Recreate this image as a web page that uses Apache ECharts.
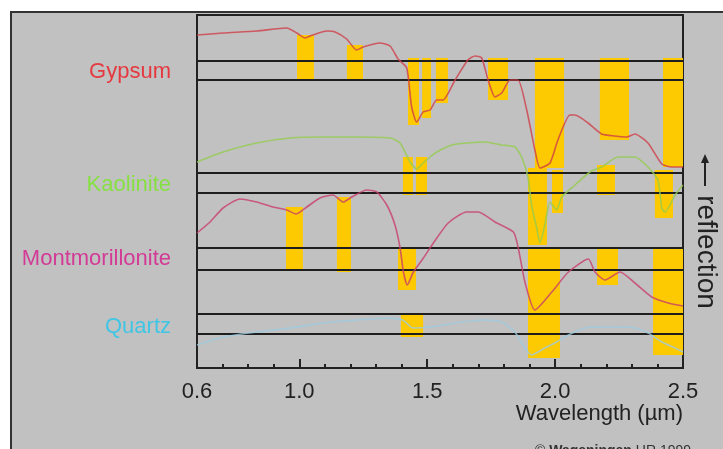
<!DOCTYPE html>
<html>
<head>
<meta charset="utf-8">
<script src="https://cdn.jsdelivr.net/npm/echarts@6/dist/echarts.min.js"></script>
<style>
  html, body { margin: 0; padding: 0; background: #fff; }
  #spectra { width: 723px; height: 449px; }
</style>
</head>
<body>
<div id="spectra"></div>
<script>
// wavelength axis (µm)
const labelTicks = [0.6, 1.0, 1.5, 2.0, 2.5];
const minorTicks = [0.7, 0.8, 0.9, 1.1, 1.2, 1.3, 1.4, 1.6, 1.7, 1.8, 1.9, 2.1, 2.2, 2.3, 2.4];
const majorTicks = [1.0, 1.5, 2.0, 2.5];

// minerals, their colours and where the name sits on the offset reflection scale
const minerals = ['Gypsum', 'Kaolinite', 'Montmorillonite', 'Quartz'];
const nameColors = ['#e5393f', '#86e043', '#d23a95', '#3fc6e4'];
const lineColors = ['#cf3f48', '#93cc4e', '#c93f6c', '#9ccbe0'];
const nameLevels = [296, 183, 109, 41];

// pairs of black reference lines (offset reflection units)
const baselines = [307, 288, 195, 175, 120, 98, 54, 34];

// spectra: [wavelength, reflection (offset)]
const gypsum = [
  [0.600, 333], [0.702, 335], [0.833, 337], [0.951, 340], [0.990, 335], [1.022, 330],
  [1.053, 333], [1.107, 337], [1.140, 336], [1.185, 329], [1.224, 318], [1.249, 321],
  [1.315, 325], [1.355, 322], [1.386, 309], [1.420, 300], [1.439, 261], [1.459, 246],
  [1.484, 256], [1.511, 258], [1.537, 268], [1.562, 268], [1.609, 288], [1.659, 308],
  [1.687, 312], [1.713, 310], [1.738, 288], [1.765, 271], [1.791, 275], [1.824, 288],
  [1.855, 288], [1.889, 258], [1.921, 218], [1.941, 200], [1.980, 205], [2.011, 228],
  [2.058, 253], [2.078, 253], [2.129, 245], [2.182, 234], [2.234, 232], [2.280, 231],
  [2.312, 234], [2.363, 225], [2.417, 204], [2.456, 201], [2.500, 201]
];
const kaolinite = [
  [0.600, 206], [0.702, 216], [0.833, 225], [0.964, 230], [1.093, 231], [1.224, 231],
  [1.355, 230], [1.394, 225], [1.433, 206], [1.459, 199], [1.484, 205], [1.511, 211],
  [1.537, 216], [1.596, 223], [1.659, 225], [1.726, 226], [1.791, 223], [1.843, 221],
  [1.869, 211], [1.894, 191], [1.908, 163], [1.928, 140], [1.941, 125], [1.960, 143],
  [1.980, 166], [2.006, 158], [2.026, 171], [2.078, 183], [2.136, 196], [2.182, 201],
  [2.246, 211], [2.312, 211], [2.363, 201], [2.402, 188], [2.417, 160], [2.430, 156],
  [2.469, 173], [2.500, 183]
];
const montmorillonite = [
  [0.600, 135], [0.651, 146], [0.702, 160], [0.768, 169], [0.833, 166], [0.897, 161],
  [0.951, 158], [0.987, 154], [1.029, 161], [1.081, 170], [1.132, 173], [1.172, 166],
  [1.205, 171], [1.263, 178], [1.303, 176], [1.342, 163], [1.374, 143], [1.394, 120],
  [1.407, 96], [1.422, 83], [1.446, 96], [1.485, 110], [1.524, 125], [1.582, 145],
  [1.654, 156], [1.700, 156], [1.765, 146], [1.837, 136], [1.856, 120], [1.882, 86],
  [1.921, 58], [1.987, 76], [2.052, 96], [2.130, 109], [2.156, 96], [2.195, 88],
  [2.254, 96], [2.312, 85], [2.378, 71], [2.442, 65], [2.500, 62]
];
const quartz = [
  [0.600, 23], [0.702, 31], [0.833, 36], [0.964, 40], [1.093, 45], [1.224, 48],
  [1.355, 50], [1.405, 48], [1.444, 40], [1.511, 41], [1.635, 46], [1.726, 48],
  [1.791, 46], [1.843, 36], [1.882, 20], [1.908, 13], [1.960, 20], [2.006, 26],
  [2.052, 33], [2.117, 40], [2.182, 41], [2.247, 41], [2.312, 40], [2.364, 35],
  [2.417, 26], [2.469, 20], [2.500, 16]
];
const spectra = [gypsum, kaolinite, montmorillonite, quartz];

// absorption bands: [from µm, to µm, top, bottom]
const bands = [
  // gypsum
  [0.991, 1.057, 333, 288], [1.186, 1.249, 323, 288], [1.425, 1.468, 310, 243],
  [1.480, 1.515, 310, 250], [1.534, 1.581, 310, 265], [1.738, 1.816, 310, 268],
  [1.921, 2.035, 310, 200], [2.175, 2.289, 310, 228], [2.422, 2.500, 310, 201],
  // kaolinite
  [1.405, 1.444, 211, 173], [1.456, 1.499, 211, 173], [1.894, 1.968, 200, 123],
  [1.988, 2.031, 198, 155], [2.164, 2.234, 203, 173], [2.390, 2.461, 198, 150],
  // montmorillonite
  [0.948, 1.014, 161, 97], [1.147, 1.202, 171, 96], [1.386, 1.456, 121, 78],
  [1.894, 2.019, 120, 10], [2.164, 2.246, 120, 83], [2.383, 2.500, 120, 13],
  // quartz
  [1.397, 1.484, 55, 31]
];

const FONT = 'Liberation Sans, Arial, sans-serif';

let chart = echarts.getInstanceByDom(document.getElementById('spectra'));
if (chart === undefined) {
  chart = echarts.init(document.getElementById('spectra'));
}

const nameRich = {};
minerals.forEach(function (m, i) {
  nameRich['m' + i] = { color: nameColors[i], fontSize: 22, fontFamily: FONT };
});

let option = {
  backgroundColor: '#fff',
  animation: false,
  grid: {
    left: 197, right: 40, top: 15, bottom: 81,
    show: true, borderColor: '#222', borderWidth: 2, backgroundColor: 'transparent'
  },
  xAxis: [
    {
      type: 'value', min: 0.6, max: 2.5, position: 'bottom',
      axisLine: { show: true, lineStyle: { color: '#222', width: 2 } },
      axisTick: { show: true, inside: true, length: 4, customValues: minorTicks,
        lineStyle: { color: '#222', width: 2 } },
      axisLabel: { customValues: labelTicks, margin: 13, color: '#222', fontSize: 22,
        fontFamily: FONT, formatter: function (v) { return v.toFixed(1); } },
      splitLine: { show: false }
    },
    {
      type: 'value', min: 0.6, max: 2.5, position: 'bottom',
      axisLine: { show: false },
      axisTick: { show: true, inside: true, length: 9, customValues: majorTicks,
        lineStyle: { color: '#222', width: 2 } },
      axisLabel: { show: false },
      splitLine: { show: false }
    }
  ],
  yAxis: {
    type: 'value', min: 0, max: 353,
    axisLine: { show: true, lineStyle: { color: '#222', width: 2 } },
    axisTick: { show: false },
    splitLine: { show: false },
    axisLabel: {
      customValues: nameLevels, margin: 26, rich: nameRich,
      formatter: function (v) {
        const i = nameLevels.indexOf(v);
        return '{m' + i + '|' + minerals[i] + '}';
      }
    }
  },
  graphic: [
    { type: 'rect', z: -10, shape: { x: 11, y: 12, width: 720, height: 445 },
      style: { fill: '#c1c1c2', stroke: '#333', lineWidth: 2 } },
    { type: 'text', x: 683, y: 414, z: 10,
      style: { text: 'Wavelength (µm)', fill: '#222', font: '22px ' + FONT,
        textAlign: 'right', textVerticalAlign: 'middle' } },
    { type: 'text', x: 706, y: 252, rotation: -Math.PI / 2, z: 10,
      style: { text: 'reflection', fill: '#222', font: '28px ' + FONT,
        textAlign: 'center', textVerticalAlign: 'middle' } },
    { type: 'polyline', z: 10, shape: { points: [[705, 186], [705, 160]] },
      style: { stroke: '#222', lineWidth: 2 } },
    { type: 'polygon', z: 10, shape: { points: [[705, 154], [701, 163], [709, 163]] },
      style: { fill: '#222' } },
    { type: 'text', x: 535, y: 444, z: 10,
      style: { text: '{a|© }{b|Wageningen}{a| UR 1999}', fill: '#333',
        rich: { a: { fontSize: 14, fontFamily: FONT, fill: '#333' },
          b: { fontSize: 14, fontFamily: FONT, fontWeight: 'bold', fill: '#333' } },
        textVerticalAlign: 'top' } }
  ],
  series: [
    {
      name: 'baselines', type: 'line', data: [], z: 1,
      markLine: {
        silent: true, symbol: 'none', label: { show: false },
        lineStyle: { color: '#1e1e1e', width: 2, type: 'solid' },
        data: baselines.map(function (v) { return { yAxis: v }; })
      }
    },
    {
      name: 'bands', type: 'custom', z: 3, data: bands,
      encode: { x: [0, 1], y: [2, 3] },
      renderItem: function (params, api) {
        const p1 = api.coord([api.value(0), api.value(2)]);
        const p2 = api.coord([api.value(1), api.value(3)]);
        return {
          type: 'rect',
          shape: { x: p1[0], y: p1[1], width: p2[0] - p1[0], height: p2[1] - p1[1] },
          style: { fill: '#fdc900' }
        };
      }
    }
  ].concat(spectra.map(function (d, i) {
    return {
      name: minerals[i], type: 'line', data: d, z: 5,
      smooth: 0.2, symbol: 'none',
      lineStyle: { color: lineColors[i], width: 1.6, opacity: 0.8 }
    };
  }))
};

chart.clear();
chart.setOption(option);
</script>
</body>
</html>
